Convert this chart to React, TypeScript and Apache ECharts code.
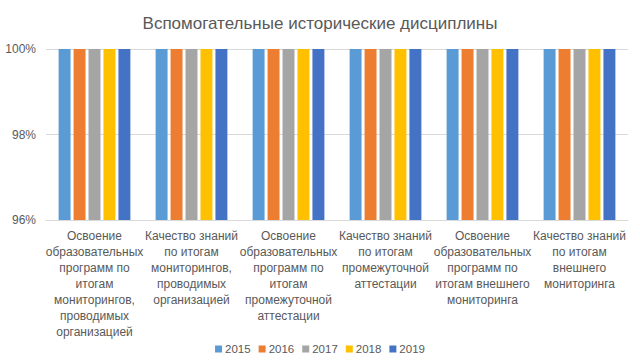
import React, { useEffect, useRef } from "react";
import * as echarts from "echarts";

const categories = [
  "Освоение\nобразовательных\nпрограмм по\nитогам\nмониторингов,\nпроводимых\nорганизацией",
  "Качество знаний\nпо итогам\nмониторингов,\nпроводимых\nорганизацией",
  "Освоение\nобразовательных\nпрограмм по\nитогам\nпромежуточной\nаттестации",
  "Качество знаний\nпо итогам\nпромежуточной\nаттестации",
  "Освоение\nобразовательных\nпрограмм по\nитогам внешнего\nмониторинга",
  "Качество знаний\nпо итогам\nвнешнего\nмониторинга",
];
const seriesNames = ["2015", "2016", "2017", "2018", "2019"];
const values2015 = [100, 100, 100, 100, 100, 100];
const values2016 = [100, 100, 100, 100, 100, 100];
const values2017 = [100, 100, 100, 100, 100, 100];
const values2018 = [100, 100, 100, 100, 100, 100];
const values2019 = [100, 100, 100, 100, 100, 100];
const allValues = [values2015, values2016, values2017, values2018, values2019];
const colors = ["#5B9BD5", "#ED7D31", "#A5A5A5", "#FFC000", "#4472C4"];
const yMin = 96;
const yMax = 100;
const yInterval = 2;

export default function App() {
  const ref = useRef<HTMLDivElement>(null);
  useEffect(() => {
    if (!ref.current) return;
    const chart = echarts.init(ref.current, undefined, { renderer: "svg" });
    const font = "'Liberation Sans', Arial, sans-serif";
    chart.setOption({
      animation: false,
      color: colors,
      textStyle: { fontFamily: font },
      title: {
        text: "Вспомогательные исторические дисциплины",
        left: "center",
        top: 10,
        textStyle: { fontSize: 17, fontWeight: "normal", color: "#595959", fontFamily: font },
      },
      legend: {
        bottom: 3,
        left: "center",
        itemWidth: 7,
        itemHeight: 7,
        itemGap: 8,
        icon: "rect",
        textStyle: { fontSize: 11.5, color: "#595959", fontFamily: font, padding: [0, 0, 0, -2] },
        data: seriesNames,
      },
      grid: { left: 46, right: 12, top: 49, bottom: 143 },
      xAxis: {
        type: "category",
        data: categories,
        axisTick: { show: false },
        axisLine: { lineStyle: { color: "#D9D9D9" } },
        axisLabel: {
          interval: 0,
          color: "#595959",
          fontSize: 12,
          lineHeight: 16,
          margin: 8,
          fontFamily: font,
        },
      },
      yAxis: {
        type: "value",
        min: yMin,
        max: yMax,
        interval: yInterval,
        axisLabel: { formatter: "{value}%", color: "#595959", fontSize: 12, fontFamily: font, margin: 10 },
        splitLine: { lineStyle: { color: "#D9D9D9" } },
        axisLine: { show: false },
        axisTick: { show: false },
      },
      series: seriesNames.map((name, i) => ({
        name,
        type: "bar",
        data: allValues[i],
        barGap: "25%",
        barCategoryGap: "26%",
      })),
    });
    return () => chart.dispose();
  }, []);
  return (
    <div
      ref={ref}
      style={{ position: "fixed", left: 0, top: 0, width: 640, height: 363, background: "#fff" }}
    />
  );
}
